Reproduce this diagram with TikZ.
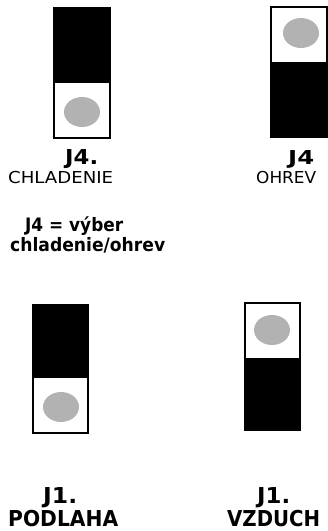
\documentclass[tikz,border=0pt]{standalone}
\usepackage{fontspec}
\setmainfont{DejaVu Sans}
\usepackage{tikz}
\usetikzlibrary{positioning}

\definecolor{pin}{RGB}{178,178,178}

% label stretched to a given width and cap height
\newcommand{\fitlabel}[3]{\resizebox{#1pt}{#2pt}{\raisebox{0pt}[0.73em]{#3}}}

\tikzset{
	pinbox/.style={draw=black, line width=1.6pt},
	pinon/.style={fill=black},
	pincap/.style={fill=pin, draw=none},
	jname/.style={font=\bfseries, inner sep=0pt, anchor=base west},
	jmode/.style={font=\mdseries, inner sep=0pt, anchor=base west}
}

\begin{document}
\begin{tikzpicture}[x=1pt, y=-1pt]
				\useasboundingbox (0,0) rectangle (328,531);
				% J4 chladenie
				\fill[pinon] (54,8) rectangle (110,82);
				\draw[pinbox] (54,8) rectangle (110,138);
				\draw[pinbox] (54,82) -- (110,82);
				\fill[pincap] (82,112) ellipse (18 and 15);
				% J4 ohrev
				\fill[pinon] (271,63) rectangle (327,137);
				\draw[pinbox] (271,7) rectangle (327,137);
				\draw[pinbox] (271,63) -- (327,63);
				\fill[pincap] (301,33) ellipse (18 and 15);
				% J1 podlaha
				\fill[pinon] (33,305) rectangle (88,377);
				\draw[pinbox] (33,305) rectangle (88,433);
				\draw[pinbox] (33,377) -- (88,377);
				\fill[pincap] (61,407) ellipse (18 and 15);
				% J1 vzduch
				\fill[pinon] (245,359) rectangle (300,430);
				\draw[pinbox] (245,303) rectangle (300,430);
				\draw[pinbox] (245,359) -- (300,359);
				\fill[pincap] (272,330) ellipse (18 and 15);

				\node[jname] at (65,164) (j4a) {\fitlabel{33}{15}{J4.}};
				\node[jmode] at (8,183) (chl) {\fitlabel{105}{12}{CHLADENIE}};
				\node[jname] at (288,164) (j4b) {\fitlabel{26}{14}{J4}};
				\node[jmode] at (256,183) (ohr) {\fitlabel{60}{12}{OHREV}};
				\node[jname] at (25,231) (sel) {\fitlabel{98}{13.5}{J4 = výber}};
				\node[jname] at (10,251) (selb) {\fitlabel{155}{13.5}{chladenie/ohrev}};
				\node[jname] at (43,503) (j1a) {\fitlabel{34}{16}{J1.}};
				\node[jname] at (8,526) (pod) {\fitlabel{110}{16}{PODLAHA}};
				\node[jname] at (257,503) (j1b) {\fitlabel{33}{16}{J1.}};
				\node[jname] at (227,526) (vzd) {\fitlabel{93}{16}{VZDUCH}};
			\end{tikzpicture}
\end{document}
